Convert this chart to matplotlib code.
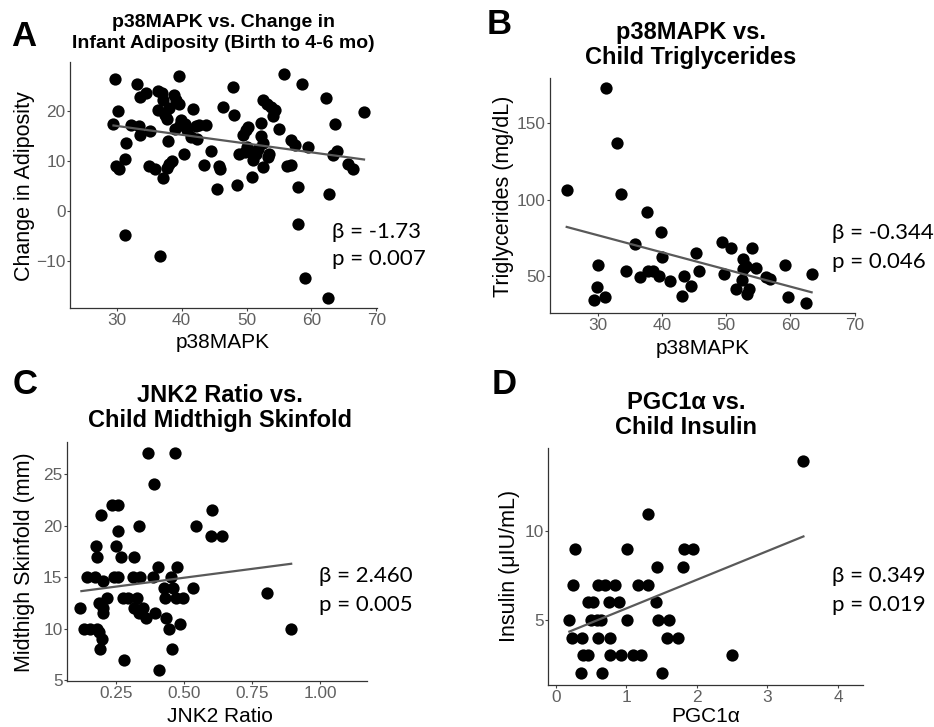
import numpy as np
import matplotlib
matplotlib.use("Agg")
import matplotlib.pyplot as plt

W, H = 934, 727

# ---- Panel A: p38MAPK vs change in infant adiposity
a_x = [29.7, 29.5, 30.2, 29.9, 30.3, 31.3, 31.5, 31.3, 32.2, 33.1, 33.5, 33.6, 33.6, 34.5,
       34.9, 35.2, 35.9, 36.4, 36.4, 36.9, 37.1, 37.2, 37.5, 37.7, 37.9, 38.1, 37.7, 38.1,
       38.5, 36.7, 39.6, 38.8, 39.2, 39.6, 39.0, 39.7, 39.9, 40.5, 40.3, 40.8, 41.4, 41.8,
       42.2, 42.3, 42.7, 43.8, 43.4, 44.5, 45.7, 45.9, 45.4, 46.3, 47.9, 48.1, 48.5, 48.9,
       49.4, 49.9, 50.3, 50.0, 49.7, 50.5, 50.8, 51.0, 51.4, 51.8, 52.3, 52.2, 52.6, 53.2,
       53.7, 54.4, 54.0, 52.6, 52.6, 53.3, 53.5, 55.0, 55.7, 56.2, 56.8, 56.9, 57.4, 58.0,
       57.9, 58.5, 59.5, 59.0, 62.3, 62.7, 62.5, 63.3, 63.7, 64.0, 65.6, 66.4, 68.1]
a_y = [26.4, 17.4, 20.1, 9.1, 8.4, 10.5, 13.7, -4.8, 17.3, 25.4, 17.1, 15.3, 22.9, 23.7,
       9.1, 16.1, 8.4, 24.1, 20.3, 23.6, 6.6, 22.2, 19.3, 18.5, 14.0, 20.7, 8.6, 9.5,
       10.0, -8.9, 27.1, 23.2, 22.2, 21.5, 16.5, 17.2, 18.3, 17.5, 11.5, 16.2, 14.9, 20.4,
       17.1, 14.5, 17.2, 17.2, 9.3, 12.1, 9.1, 8.4, 4.5, 20.9, 24.8, 19.2, 5.2, 11.5,
       15.3, 16.2, 16.8, 12.9, 11.9, 11.9, 6.9, 10.3, 11.5, 12.5, 17.7, 15.0, 22.3, 21.5,
       20.9, 20.2, 19.0, 13.7, 8.9, 10.9, 11.5, 16.5, 27.5, 9.0, 9.3, 14.2, 13.3, 4.9,
       -2.5, 25.4, 12.9, -13.3, 22.7, 3.5, -17.3, 11.2, 17.4, 12.0, 9.5, 8.5, 19.9]
a_fit_x = [29.5, 68.1]
a_fit_y = [17.1, 10.3]

# ---- Panel B: p38MAPK vs child triglycerides
b_x = [25.2, 31.3, 30.0, 29.9, 29.5, 31.1, 33.1, 33.6, 34.4, 35.9, 36.6, 37.7, 37.9, 38.7,
       39.5, 39.9, 40.0, 41.3, 43.4, 43.2, 44.5, 45.3, 45.8, 49.4, 49.7, 50.8, 51.5, 52.6,
       52.4, 52.7, 53.1, 53.3, 53.6, 54.1, 54.7, 56.2, 56.9, 59.2, 59.6, 62.4, 63.4]
b_y = [106.1, 172.8, 57.2, 43.0, 34.3, 36.5, 137.0, 103.9, 53.3, 71.3, 49.3, 92.2, 53.3, 53.3,
       50.4, 79.1, 62.4, 47.2, 50.4, 37.4, 43.5, 65.2, 53.3, 72.2, 51.5, 68.3, 41.7, 61.3,
       47.8, 54.8, 56.5, 38.7, 41.7, 68.3, 55.2, 49.6, 48.3, 57.2, 36.3, 32.6, 51.3]
b_fit_x = [25.2, 63.3]
b_fit_y = [82.2, 39.6]

# ---- Panel C: JNK2 ratio vs child midthigh skinfold
c_x = [0.117, 0.130, 0.154, 0.142, 0.176, 0.178, 0.170, 0.178, 0.186, 0.192, 0.189, 0.195,
       0.185, 0.200, 0.202, 0.202, 0.214, 0.232, 0.256, 0.250, 0.256, 0.242, 0.256, 0.268,
       0.275, 0.291, 0.277, 0.315, 0.334, 0.311, 0.336, 0.324, 0.314, 0.332, 0.348, 0.357,
       0.367, 0.389, 0.385, 0.391, 0.404, 0.407, 0.425, 0.428, 0.431, 0.444, 0.452, 0.459,
       0.467, 0.456, 0.474, 0.469, 0.496, 0.484, 0.533, 0.541, 0.602, 0.597, 0.637, 0.803,
       0.893]
c_y = [12.0, 10.0, 10.0, 15.0, 18.0, 17.0, 15.0, 10.0, 9.7, 21.0, 8.0, 9.0,
       12.5, 12.0, 14.6, 11.5, 13.0, 22.0, 22.0, 18.0, 19.5, 15.0, 15.0, 17.0,
       13.0, 13.0, 7.0, 17.0, 20.0, 15.0, 15.0, 13.0, 12.0, 11.5, 12.0, 11.0,
       27.0, 24.0, 15.0, 11.5, 16.0, 6.0, 14.0, 13.0, 11.0, 10.0, 15.0, 14.0,
       27.0, 8.0, 16.0, 13.0, 13.0, 10.5, 14.0, 20.0, 21.5, 19.0, 19.0, 13.5,
       10.0]
c_fit_x = [0.121, 0.893]
c_fit_y = [13.65, 16.3]

# ---- Panel D: PGC1a vs child insulin
d_x = [3.51, 1.31, 0.27, 1.01, 1.81, 1.94, 1.43, 1.80, 0.24, 0.60, 0.70, 0.84, 1.16, 1.31,
       0.46, 0.53, 0.75, 0.89, 1.42, 0.18, 0.49, 0.58, 0.64, 1.01, 1.45, 1.60, 0.23, 0.37,
       0.59, 0.77, 1.57, 1.73, 0.39, 0.46, 0.77, 0.92, 1.09, 1.21, 2.50, 0.36, 0.66, 1.50]
d_y = [14, 11, 9, 9, 9, 9, 8, 8, 7, 7, 7, 7, 7, 7,
       6, 6, 6, 6, 6, 5, 5, 5, 5, 5, 5, 5, 4, 4,
       4, 4, 4, 4, 3, 3, 3, 3, 3, 3, 3, 2, 2, 2]
d_fit_x = [0.19, 3.51]
d_fit_y = [4.34, 9.72]

plt.rcParams['font.family'] = ['Liberation Sans', 'DejaVu Sans']

fig = plt.figure(figsize=(W / 100, H / 100), dpi=100, facecolor='white')


def px_text(x, y, s, **kw):
    fig.text(x / W, 1 - y / H, s, **kw)


def make_axes(left, top, right, bottom):
    ax = fig.add_axes([left / W, 1 - bottom / H, (right - left) / W, (bottom - top) / H])
    for side in ['top', 'right']:
        ax.spines[side].set_visible(False)
    for side in ['left', 'bottom']:
        ax.spines[side].set_color('#333333')
        ax.spines[side].set_linewidth(0.9)
    ax.tick_params(colors='#444444', labelcolor='#606060', labelsize=12.4,
                   length=2.5, width=0.8, pad=0.8)
    return ax


panels = [
    dict(letter='A', lpos=(11, 37), title='p38MAPK vs. Change in\nInfant Adiposity (Birth to 4-6 mo)',
         tsize=14, tls=1.3, tpos=(223, 33), xlabel='p38MAPK', xlpos=(223, 343),
         ylabel='Change in Adiposity', ylpos=(25, 186), x=a_x, y=a_y,
         fx=a_fit_x, fy=a_fit_y, box=(70, 62, 377, 308), xlim=(22.8, 70.1), ylim=(-19.4, 29.8),
         xticks=[30, 40, 50, 60, 70], xtl=None, yticks=[-10, 0, 10, 20],
         stats=('\u03b2 = -1.73', 'p = 0.007'), spos=(332, 232, 259)),
    dict(letter='B', lpos=(487, 25), title='p38MAPK vs.\nChild Triglycerides',
         tsize=17, tls=1.1, tpos=(691, 45), xlabel='p38MAPK', xlpos=(703, 349),
         ylabel='Triglycerides (mg/dL)', ylpos=(504, 196), x=b_x, y=b_y,
         fx=b_fit_x, fy=b_fit_y, box=(550, 78, 855, 313), xlim=(22.6, 70.05), ylim=(26.1, 179.3),
         xticks=[30, 40, 50, 60, 70], xtl=None, yticks=[50, 100, 150],
         stats=('\u03b2 = -0.344', 'p = 0.046'), spos=(832, 233, 262)),
    dict(letter='C', lpos=(13, 385), title='JNK2 Ratio vs.\nChild Midthigh Skinfold',
         tsize=17, tls=1.1, tpos=(220, 408), xlabel='JNK2 Ratio', xlpos=(220, 717),
         ylabel='Midthigh Skinfold (mm)', ylpos=(25, 562), x=c_x, y=c_y,
         fx=c_fit_x, fy=c_fit_y, box=(67, 442, 367, 681), xlim=(0.068, 1.172), ylim=(4.94, 28.1),
         xticks=[0.25, 0.5, 0.75, 1.0], xtl=['0.25', '0.50', '0.75', '1.00'],
         yticks=[5, 10, 15, 20, 25],
         stats=('\u03b2 = 2.460', 'p = 0.005'), spos=(319, 576, 605)),
    dict(letter='D', lpos=(492, 385), title='PGC1\u03b1 vs.\nChild Insulin',
         tsize=17, tls=1.1, tpos=(686, 415), xlabel='PGC1\u03b1', xlpos=(706, 717),
         ylabel='Insulin (\u03bcIU/mL)', ylpos=(510, 566), x=d_x, y=d_y,
         fx=d_fit_x, fy=d_fit_y, box=(548, 448, 863, 685), xlim=(-0.113, 4.355), ylim=(1.32, 14.72),
         xticks=[0, 1, 2, 3, 4], xtl=None, yticks=[5, 10],
         stats=('\u03b2 = 0.349', 'p = 0.019'), spos=(832, 576, 605)),
]

for p in panels:
    ax = make_axes(*p['box'])
    ax.scatter(p['x'], p['y'], s=78, color='black', linewidths=0, zorder=3)
    ax.plot(p['fx'], p['fy'], color='#595959', linewidth=1.6, zorder=4)
    ax.set_xlim(*p['xlim'])
    ax.set_ylim(*p['ylim'])
    ax.set_xticks(p['xticks'])
    if p['xtl']:
        ax.set_xticklabels(p['xtl'])
    ax.set_yticks(p['yticks'])

    px_text(*p['lpos'], p['letter'], fontsize=25, fontweight='bold', ha='left', va='center')
    px_text(*p['tpos'], p['title'], fontsize=p['tsize'], fontweight='bold',
            ha='center', va='center', linespacing=p['tls'])
    px_text(*p['xlpos'], p['xlabel'], fontsize=15, ha='center', va='center')
    px_text(*p['ylpos'], p['ylabel'], fontsize=15.5, ha='center', va='center', rotation=90)
    sx, sy1, sy2 = p['spos']
    px_text(sx, sy1, p['stats'][0], fontsize=16, family=['Lato', 'DejaVu Sans'],
            ha='left', va='center')
    px_text(sx, sy2, p['stats'][1], fontsize=16, family=['Lato', 'DejaVu Sans'],
            ha='left', va='center')

fig.savefig('out.png', dpi=100, facecolor='white')
